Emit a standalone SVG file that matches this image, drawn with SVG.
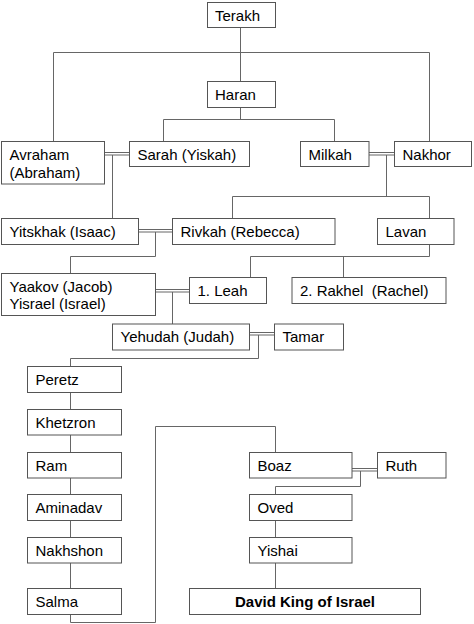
<svg xmlns="http://www.w3.org/2000/svg" width="474" height="624" viewBox="0 0 474 624">
<style>
.b{fill:#fff;stroke:#555;stroke-width:1}
.t{font-family:"Liberation Sans",Arial,sans-serif;font-size:15px;fill:#000;white-space:pre}
.c{fill:none;stroke:#666;stroke-width:1}
.bold{font-weight:bold;text-anchor:middle}
</style>
<rect width="474" height="624" fill="#fff"/>
<g id="connectors" class="c">
<path d="M240.5 27.5V81.5"/>
<path d="M53.5 141.5V52.5H429.5V141.5"/>
<path d="M240.5 107.5V119.5"/>
<path d="M163.5 141.5V119.5H334.5V141.5"/>
<path d="M104.5 152.5H129.5M104.5 155H129.5"/>
<path d="M112.5 155V218.5"/>
<path d="M369 152.5H394.5M369 155H394.5"/>
<path d="M386.5 155V196.5"/>
<path d="M232.5 218.5V196.5H429.5V218.5"/>
<path d="M138.5 229.5H172.5M138.5 232H172.5"/>
<path d="M155.5 232V256.5H70.5V273.5"/>
<path d="M429.5 244.5V256.5H250.5V277.5"/>
<path d="M343.5 256.5V277.5"/>
<path d="M155.5 289.5H189.5M155.5 292H189.5"/>
<path d="M172.5 292V324"/>
<path d="M249.5 332.5H274.5M249.5 335H274.5"/>
<path d="M258.5 335V358.5H70.5V366.5"/>
<path d="M70.5 392.5V409.5M70.5 435V452.5M70.5 478V494.5M70.5 520.5V537.5M70.5 563V588.5"/>
<path d="M70.5 614.5V622.5H155.5V426.5H275.5V452.5"/>
<path d="M352 468.5H377.5M352 471H377.5"/>
<path d="M360.5 471V486.5H275.5V494.5"/>
<path d="M275.5 520.5V537.5M275.5 563V588.5"/>
</g>
<g id="terakh"><rect class="b" x="207.5" y="2.5" width="68" height="25"/><text class="t" x="215" y="20.5">Terakh</text></g>
<g id="haran"><rect class="b" x="207.5" y="81.5" width="68" height="26"/><text class="t" x="215" y="99.5">Haran</text></g>
<g id="avraham"><rect class="b" x="1.5" y="141.5" width="103" height="42.5"/><text class="t" x="9.5" y="159.5">Avraham</text><text class="t" x="9.5" y="177.5">(Abraham)</text></g>
<g id="sarah"><rect class="b" x="129.5" y="141.5" width="120" height="25"/><text class="t" x="137.5" y="159.5">Sarah (Yiskah)</text></g>
<g id="milkah"><rect class="b" x="300.5" y="141.5" width="68.5" height="25"/><text class="t" x="308.5" y="159.5">Milkah</text></g>
<g id="nakhor"><rect class="b" x="394.5" y="141.5" width="77" height="25"/><text class="t" x="402.5" y="159.5">Nakhor</text></g>
<g id="yitskhak"><rect class="b" x="1.5" y="218.5" width="137" height="26"/><text class="t" x="9.5" y="236.5">Yitskhak (Isaac)</text></g>
<g id="rivkah"><rect class="b" x="172.5" y="218.5" width="162.5" height="26"/><text class="t" x="180.5" y="236.5">Rivkah (Rebecca)</text></g>
<g id="lavan"><rect class="b" x="377.5" y="218.5" width="76.5" height="26"/><text class="t" x="385.5" y="236.5">Lavan</text></g>
<g id="yaakov"><rect class="b" x="1.5" y="273.5" width="154" height="42"/><text class="t" x="9.5" y="291.5">Yaakov (Jacob)</text><text class="t" x="9.5" y="309">Yisrael (Israel)</text></g>
<g id="leah"><rect class="b" x="189.5" y="277.5" width="77" height="26"/><text class="t" x="197.5" y="295.5">1. Leah</text></g>
<g id="rakhel"><rect class="b" x="292" y="277.5" width="154" height="26"/><text class="t" x="300" y="295.5">2. Rakhel  (Rachel)</text></g>
<g id="yehudah"><rect class="b" x="112.5" y="324" width="137" height="26"/><text class="t" x="120.5" y="342">Yehudah (Judah)</text></g>
<g id="tamar"><rect class="b" x="274.5" y="324" width="69" height="26"/><text class="t" x="282.5" y="342">Tamar</text></g>
<g id="peretz"><rect class="b" x="27.5" y="366.5" width="94" height="26"/><text class="t" x="35.5" y="384.5">Peretz</text></g>
<g id="khetzron"><rect class="b" x="27.5" y="409.5" width="94" height="25.5"/><text class="t" x="35.5" y="427.5">Khetzron</text></g>
<g id="ram"><rect class="b" x="27.5" y="452.5" width="94" height="25.5"/><text class="t" x="35.5" y="470.5">Ram</text></g>
<g id="aminadav"><rect class="b" x="27.5" y="494.5" width="94" height="26"/><text class="t" x="35.5" y="512.5">Aminadav</text></g>
<g id="nakhshon"><rect class="b" x="27.5" y="537.5" width="94" height="25.5"/><text class="t" x="35.5" y="555.5">Nakhshon</text></g>
<g id="salma"><rect class="b" x="27.5" y="588.5" width="94" height="26"/><text class="t" x="35.5" y="606.5">Salma</text></g>
<g id="boaz"><rect class="b" x="249.5" y="452.5" width="102.5" height="25.5"/><text class="t" x="257.5" y="470.5">Boaz</text></g>
<g id="ruth"><rect class="b" x="377.5" y="452.5" width="68.5" height="25.5"/><text class="t" x="385.5" y="470.5">Ruth</text></g>
<g id="oved"><rect class="b" x="249.5" y="494.5" width="102.5" height="26"/><text class="t" x="257.5" y="512.5">Oved</text></g>
<g id="yishai"><rect class="b" x="249.5" y="537.5" width="102.5" height="25.5"/><text class="t" x="257.5" y="555.5">Yishai</text></g>
<g id="david"><rect class="b" x="189.5" y="588.5" width="231" height="26"/><text class="t bold" x="305" y="606.5">David King of Israel</text></g>
</svg>
